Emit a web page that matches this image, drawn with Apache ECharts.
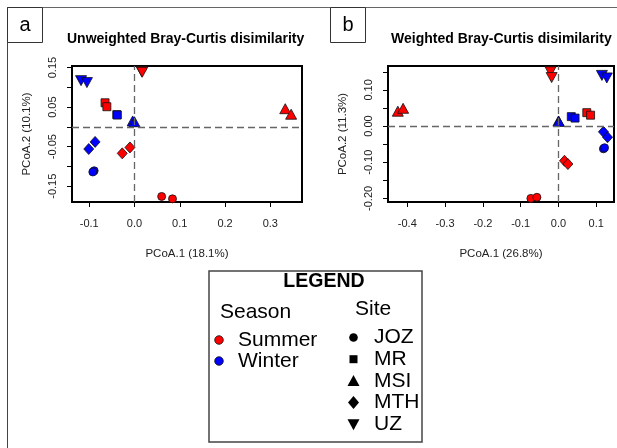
<!DOCTYPE html>
<html>
<head>
<meta charset="utf-8">
<script src="https://cdn.jsdelivr.net/npm/echarts@6/dist/echarts.min.js"></script>
<style>
  html, body { margin: 0; padding: 0; background: #fff; }
  #chart { width: 617px; height: 448px; }
</style>
</head>
<body>
<div id="chart"></div>
<script>
// sample layout: 2 summer + 2 winter per site, same order in both panels
const sampleSite = ['JOZ','JOZ','JOZ','JOZ','MR','MR','MR','MR','MSI','MSI','MSI','MSI',
                    'MTH','MTH','MTH','MTH','UZ','UZ','UZ','UZ'];
const sampleSeason = ['Summer','Summer','Winter','Winter','Summer','Summer','Winter','Winter',
                      'Summer','Summer','Winter','Winter','Summer','Summer','Winter','Winter',
                      'Summer','Summer','Winter','Winter'];

// unweighted Bray-Curtis PCoA
const unwX = [0.060, 0.084, -0.089, -0.092, -0.065, -0.061, -0.039, -0.038, 0.333, 0.346,
              -0.004, 0.000, -0.010, -0.027, -0.087, -0.101, 0.016, 0.017, -0.118, -0.105];
const unwY = [-0.176, -0.182, -0.111, -0.114, 0.061, 0.051, 0.031, 0.030, 0.046, 0.032,
              0.015, 0.013, -0.052, -0.067, -0.038, -0.056, 0.140, 0.138, 0.117, 0.112];

// weighted Bray-Curtis PCoA
const wX = [-0.073, -0.057, 0.119, 0.122, 0.075, 0.085, 0.034, 0.044, -0.425, -0.411,
            0.000, 0.001, 0.016, 0.025, 0.119, 0.130, -0.021, -0.018, 0.115, 0.128];
const wY = [-0.200, -0.197, -0.063, -0.060, 0.037, 0.030, 0.026, 0.022, 0.041, 0.049,
            0.014, 0.013, -0.096, -0.105, -0.016, -0.031, 0.150, 0.134, 0.140, 0.133];

const sites = ['JOZ', 'MR', 'MSI', 'MTH', 'UZ'];
const seasons = ['Summer', 'Winter'];

// ticks / labels
const unwXTicks = [-0.1, 0.0, 0.1, 0.2, 0.3];
const unwYTicks = [-0.15, -0.10, -0.05, 0.0, 0.05, 0.10, 0.15];
const unwYLabels = [-0.15, -0.05, 0.05, 0.15];
const wXTicks = [-0.4, -0.3, -0.2, -0.1, 0.0, 0.1];
const wYTicks = [-0.20, -0.15, -0.10, -0.05, 0.0, 0.05, 0.10, 0.15];
const wYLabels = [-0.20, -0.10, 0.00, 0.10];

const titles = ['Unweighted Bray-Curtis disimilarity', 'Weighted Bray-Curtis disimilarity'];
const xNames = ['PCoA.1 (18.1%)', 'PCoA.1 (26.8%)'];
const yNames = ['PCoA.2 (10.1%)', 'PCoA.2 (11.3%)'];

const FONT = '"Liberation Sans", Arial, sans-serif';
const seasonColor = { Summer: '#ff0000', Winter: '#0000ff' };
const siteSymbol = {
  JOZ: { symbol: 'circle', size: 8, rotate: 0 },
  MR: { symbol: 'rect', size: 8, rotate: 0 },
  MSI: { symbol: 'triangle', size: [11, 10], rotate: 0 },
  MTH: { symbol: 'diamond', size: [10, 11], rotate: 0 },
  UZ: { symbol: 'triangle', size: [11, 10], rotate: 180 }
};

const chart = echarts.init(document.getElementById('chart'));

function xAxisFor(idx, min, max, ticks, digits) {
  return {
    type: 'value', gridIndex: idx, min: min, max: max,
    name: xNames[idx], nameLocation: 'middle', nameGap: 46,
    nameTextStyle: { fontSize: 11.5, color: '#222', fontFamily: FONT },
    axisLine: { show: false, onZero: false },
    splitLine: { show: false },
    axisTick: { show: true, length: 5, customValues: ticks, lineStyle: { color: '#000' } },
    axisLabel: { customValues: ticks, margin: 16, fontSize: 11, color: '#222', fontFamily: FONT,
      formatter: v => v.toFixed(digits) }
  };
}

function yAxisFor(idx, min, max, ticks, labels) {
  return {
    type: 'value', gridIndex: idx, min: min, max: max,
    name: yNames[idx], nameLocation: 'middle', nameGap: 39, nameRotate: 90,
    nameTextStyle: { fontSize: 11.5, color: '#222', fontFamily: FONT },
    axisLine: { show: false, onZero: false },
    splitLine: { show: false },
    axisTick: { show: true, length: 5, customValues: ticks, lineStyle: { color: '#000' } },
    axisLabel: { customValues: labels, margin: 14, rotate: 90, fontSize: 11, color: '#222', fontFamily: FONT,
      formatter: v => v.toFixed(2) }
  };
}

function panelSeries(idx, xs, ys) {
  const out = [{
    type: 'scatter', xAxisIndex: idx, yAxisIndex: idx, data: [], z: 1, silent: true,
    markLine: {
      silent: true, symbol: 'none', label: { show: false }, animation: false,
      lineStyle: { type: [7, 4], color: '#666', width: 1.3 },
      data: [{ xAxis: 0 }, { yAxis: 0 }]
    }
  }];
  sites.forEach(site => {
    const sym = siteSymbol[site];
    const data = [];
    xs.forEach((x, i) => {
      if (sampleSite[i] !== site) return;
      data.push({ value: [x, ys[i]], itemStyle: { color: seasonColor[sampleSeason[i]] } });
    });
    out.push({
      type: 'scatter', name: site, xAxisIndex: idx, yAxisIndex: idx, z: 2,
      symbol: sym.symbol, symbolSize: sym.size, symbolRotate: sym.rotate,
      itemStyle: { borderColor: '#111', borderWidth: 0.8, opacity: 1 },
      data: data
    });
  });
  return out;
}

// legend drawn as graphic (two keyed groups: colour = season, shape = site)
const legendX = 209, legendY = 271;
const legendGraphics = [
  { type: 'rect', shape: { x: legendX, y: legendY, width: 213, height: 171 },
    style: { fill: '#fff', stroke: '#444', lineWidth: 1.5 } },
  { type: 'text', style: { text: 'LEGEND', x: 324, y: 282, align: 'center', verticalAlign: 'middle',
    font: 'bold 19.5px ' + FONT, fill: '#000' } },
  { type: 'text', style: { text: 'Season', x: 220, y: 312, verticalAlign: 'middle',
    font: '21px ' + FONT, fill: '#000' } },
  { type: 'text', style: { text: 'Site', x: 355, y: 309, verticalAlign: 'middle',
    font: '21px ' + FONT, fill: '#000' } }
];
seasons.forEach((s, i) => {
  const cy = 340 + i * 21;
  legendGraphics.push({ type: 'circle', shape: { cx: 219, cy: cy, r: 4.3 },
    style: { fill: seasonColor[s], stroke: '#111', lineWidth: 0.8 } });
  legendGraphics.push({ type: 'text', style: { text: s, x: 238, y: cy, verticalAlign: 'middle',
    font: '21px ' + FONT, fill: '#000' } });
});
sites.forEach((s, i) => {
  const cy = 337.5 + i * 21.7, cx = 353.5;
  let shape;
  if (s === 'JOZ') shape = { type: 'circle', shape: { cx: cx, cy: cy, r: 4.3 } };
  else if (s === 'MR') shape = { type: 'rect', shape: { x: cx - 4, y: cy - 4, width: 8, height: 8 } };
  else if (s === 'MSI') shape = { type: 'polygon', shape: { points: [[cx, cy - 6], [cx + 6, cy + 5], [cx - 6, cy + 5]] } };
  else if (s === 'MTH') shape = { type: 'polygon', shape: { points: [[cx, cy - 6.5], [cx + 5.5, cy], [cx, cy + 6.5], [cx - 5.5, cy]] } };
  else shape = { type: 'polygon', shape: { points: [[cx - 6, cy - 5], [cx + 6, cy - 5], [cx, cy + 6]] } };
  shape.style = { fill: '#000' };
  legendGraphics.push(shape);
  legendGraphics.push({ type: 'text', style: { text: s, x: 374, y: cy, verticalAlign: 'middle',
    font: '21px ' + FONT, fill: '#000' } });
});

const frameGraphics = [
  { type: 'line', shape: { x1: 7, y1: 7.5, x2: 617, y2: 7.5 }, style: { stroke: '#666', lineWidth: 1 } },
  { type: 'line', shape: { x1: 7.5, y1: 7, x2: 7.5, y2: 448 }, style: { stroke: '#444', lineWidth: 1 } },
  { type: 'rect', shape: { x: 7.5, y: 7.5, width: 35, height: 35 }, style: { fill: '#fff', stroke: '#333', lineWidth: 1 } },
  { type: 'text', style: { text: 'a', x: 25, y: 25, align: 'center', verticalAlign: 'middle', font: '20px ' + FONT, fill: '#000' } },
  { type: 'rect', shape: { x: 330.5, y: 7.5, width: 35, height: 35 }, style: { fill: '#fff', stroke: '#333', lineWidth: 1 } },
  { type: 'text', style: { text: 'b', x: 348, y: 25, align: 'center', verticalAlign: 'middle', font: '20px ' + FONT, fill: '#000' } }
];

const option = {
  animation: false,
  backgroundColor: '#fff',
  title: [
    { text: titles[0], left: 67, top: 32, padding: 0,
      textStyle: { fontSize: 14, fontWeight: 'bold', color: '#000', fontFamily: FONT } },
    { text: titles[1], left: 391, top: 32, padding: 0,
      textStyle: { fontSize: 14, fontWeight: 'bold', color: '#000', fontFamily: FONT } }
  ],
  grid: [
    { left: 72, top: 66, width: 230, height: 136, show: true, borderColor: '#000', borderWidth: 2, backgroundColor: 'transparent' },
    { left: 388, top: 66, width: 226, height: 136, show: true, borderColor: '#000', borderWidth: 2, backgroundColor: 'transparent' }
  ],
  xAxis: [
    xAxisFor(0, -0.138, 0.370, unwXTicks, 1),
    xAxisFor(1, -0.451, 0.147, wXTicks, 1)
  ],
  yAxis: [
    yAxisFor(0, -0.190, 0.154, unwYTicks, unwYLabels),
    yAxisFor(1, -0.210, 0.166, wYTicks, wYLabels)
  ],
  series: panelSeries(0, unwX, unwY).concat(panelSeries(1, wX, wY)),
  graphic: frameGraphics.concat(legendGraphics)
};

chart.setOption(option);
</script>
</body>
</html>
